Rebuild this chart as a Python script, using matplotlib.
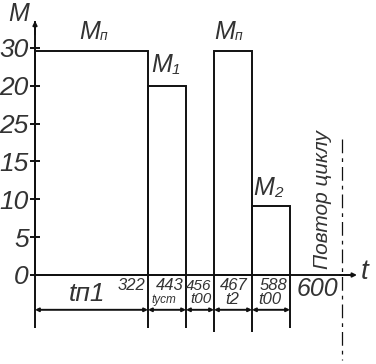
import matplotlib
matplotlib.use('Agg')
import matplotlib.pyplot as plt
from matplotlib.transforms import Affine2D

W = 376
H = 364
# chart scale: x is pixels from the M axis, y is tick units
X0 = 35
Y0 = 275
PXY = 7.567

tick_pos = [0, 5, 10, 15, 20, 25, 30]
tick_labels = ['0', '5', '10', '15', '25', '20', '30']

bar_left = [0, 113, 179, 217]
bar_width = [113, 38, 38, 38]
bar_height = [29.6, 25, 29.6, 9.1]

dim_edges = [0, 113, 151, 179, 217, 255]
ext_bottom = [-7.0, -7.0, -7.0, -7.5, -7.5, -7.0]
dim_y = -4.6
repeat_x = 307

plt.rcParams['font.family'] = ['Liberation Sans Narrow', 'Liberation Sans', 'DejaVu Sans']
plt.rcParams['font.style'] = 'italic'

fig = plt.figure(figsize=(W/100, H/100), dpi=100)
ax = fig.add_axes([0, 0, 1, 1])
ax.patch.set_alpha(0)
ax.set_xlim(-X0, W-X0)
ax.set_ylim((Y0-H)/PXY, Y0/PXY)
col = '#111111'
txt = '#333333'
lw = 1.4

ax.bar(bar_left, bar_height, width=bar_width, align='edge', fill=False, edgecolor=col, linewidth=lw)
ax.vlines(dim_edges, ext_bottom, 0, color=col, lw=lw)

for s in ['top', 'right']:
    ax.spines[s].set_visible(False)
ax.spines['left'].set_position(('data', 0))
ax.spines['bottom'].set_position(('data', 0))
ax.spines['left'].set_bounds(0, 33.4)
ax.spines['bottom'].set_bounds(0, 318)
for s in ['left', 'bottom']:
    ax.spines[s].set_linewidth(lw)
    ax.spines[s].set_color(col)
ax.set_xticks([])
ax.set_yticks(tick_pos, tick_labels, fontsize=19, color=txt)
ax.tick_params(axis='y', direction='inout', length=7, width=lw, color=col, pad=1)

# axis arrows
ax.annotate('', xy=(0, 33.6), xytext=(0, 31.8),
            arrowprops=dict(arrowstyle='-|>', color=col, lw=lw, mutation_scale=6, shrinkA=0, shrinkB=0))
ax.annotate('', xy=(322, 0), xytext=(305, 0),
            arrowprops=dict(arrowstyle='-|>', color=col, lw=lw, mutation_scale=6, shrinkA=0, shrinkB=0))

# dimension lines
for a, b in zip(dim_edges[:-1], dim_edges[1:]):
    ax.annotate('', xy=(a, dim_y), xytext=(b, dim_y),
                arrowprops=dict(arrowstyle='<|-|>', color=col, lw=lw, mutation_scale=5, shrinkA=0, shrinkB=0))

ax.plot([repeat_x, repeat_x], [(Y0-139)/PXY, (Y0-360)/PXY], color=col, lw=0.9,
        dashes=(11, 4, 3, 4))

# labels are placed in picture pixels
px = Affine2D().scale(1/W, -1/H).translate(0, 1) + fig.transFigure
labels = [
    (19, 14, 'M', 18), (90, 32, 'M', 18), (104, 36, 'п', 10),
    (162, 65, 'M', 18), (176, 70, '1', 11), (225, 32, 'M', 18), (239, 36, 'п', 10),
    (264, 188, 'M', 18), (278, 193, '2', 11), (87, 294, 'tп1', 19),
    (131, 286, '322', 12), (170, 286, '443', 12), (164, 300, 'tуст', 8.5),
    (199, 286, '456', 11), (201, 299, 't00', 11), (234, 286, '467', 12), (232, 300, 't2', 12),
    (274, 286, '588', 12), (270, 300, 't00', 12), (317, 289, '600', 18), (365, 272, 't', 20),
]
for x, y, s, fs in labels:
    ax.text(x, y, s, transform=px, fontsize=fs, ha='center', va='center', color=txt)
ax.text(322, 200, 'Повтор циклу', transform=px, fontsize=15, rotation=90,
        ha='center', va='center', color=txt)

fig.savefig('out.png', dpi=100)
